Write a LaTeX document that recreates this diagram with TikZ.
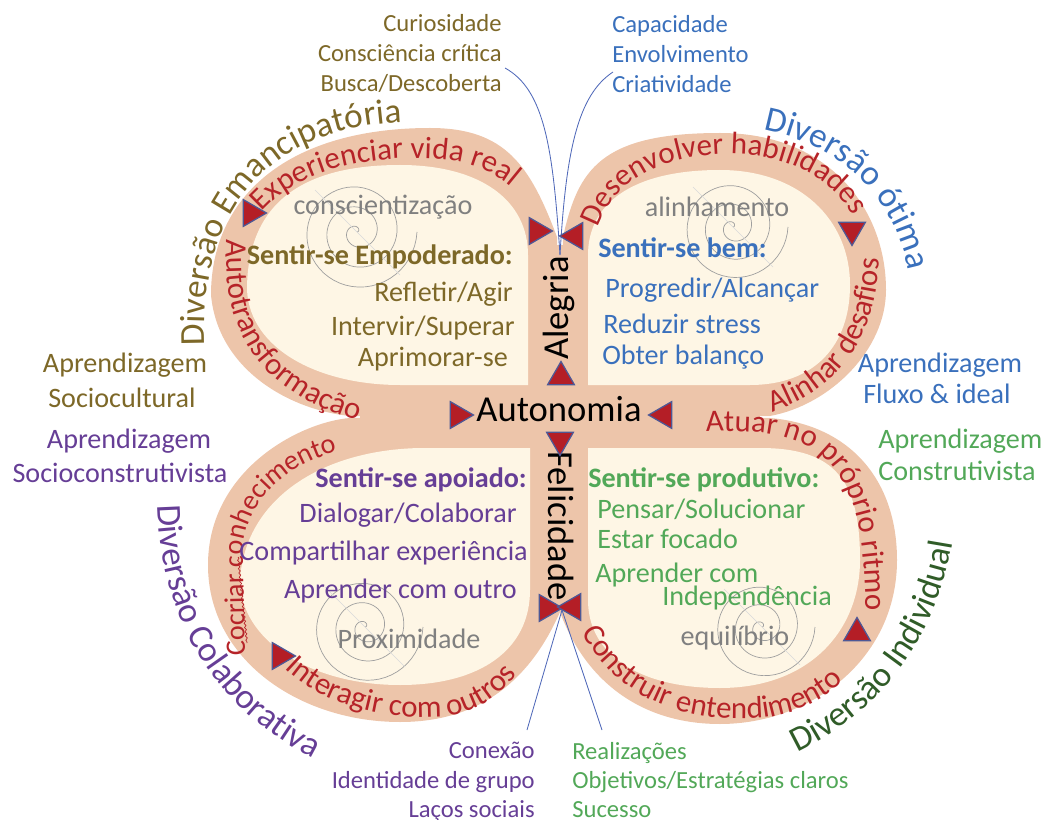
\documentclass[tikz,border=0pt]{standalone}
\usepackage{fontspec}
\setmainfont{Carlito}
\usetikzlibrary{decorations.text,decorations.pathmorphing,shapes.geometric}

\definecolor{band}{RGB}{237,197,170}
\definecolor{cream}{RGB}{254,246,229}
\definecolor{bandred}{RGB}{182,35,40}
\definecolor{emancol}{RGB}{125,104,40}
\definecolor{otimacol}{RGB}{58,112,188}
\definecolor{colabcol}{RGB}{102,62,150}
\definecolor{indivcol}{RGB}{82,168,88}
\definecolor{indivdark}{RGB}{48,92,40}
\definecolor{trifill}{RGB}{180,30,38}
\definecolor{triline}{RGB}{78,88,150}
\definecolor{linkblue}{RGB}{80,105,185}

\newcommand{\bandfont}{\fontsize{22}{26}\selectfont}
\newcommand{\smallbandfont}{\fontsize{20}{24}\selectfont}
\newcommand{\outerfont}{\fontsize{25}{30}\selectfont}
\newcommand{\listfont}{\fontsize{17.5}{21}\selectfont}
\newcommand{\innerfont}{\fontsize{20}{24}\selectfont}
\newcommand{\centerfont}{\fontsize{26}{30}\selectfont}

\begin{document}
\begin{tikzpicture}[x=0.025cm, y=0.025cm,
    bandfill/.style={fill=band},
    creamfill/.style={fill=cream},
    spiral/.style={draw=gray!75, line width=0.5pt},
    spiralx/.style={draw=gray!30, line width=0.4pt},
    tri/.style={isosceles triangle, isosceles triangle apex angle=60, fill=trifill,
        draw=triline, line width=0.9pt, inner sep=0pt, minimum size=0.58cm},
    link/.style={draw=linkblue, line width=0.6pt},
    txt/.style={inner sep=0pt, font=\innerfont},
    head/.style={inner sep=0pt, font=\innerfont\bfseries},
    listtxt/.style={inner sep=0pt, font=\listfont},
    graytxt/.style={inner sep=0pt, font=\innerfont, text=gray},
    mid/.style={inner sep=0pt, font=\centerfont},
    bandtext/.style={decorate, decoration={text along path, text align=left,
        text color=bandred, text={|\bandfont|#1}}},
    outertext/.style 2 args={decorate, decoration={text along path, text align=left,
        text color=#1, text={|\outerfont|#2}}}]

\useasboundingbox (0,0) rectangle (1046,-820);

% band
\path[bandfill] (562,-420) -- (557,-237) .. controls (530,-165) and (505,-128) .. (430,-128)
    .. controls (290,-128) and (211,-195) .. (211,-295) .. controls (218,-370) and (290,-410) .. (350,-416) -- cycle;
\path[bandfill] (558,-420) -- (563,-237) .. controls (578,-170) and (600,-133) .. (720,-133)
    .. controls (830,-133) and (886,-210) .. (886,-290) .. controls (886,-350) and (830,-405) .. (770,-416) -- cycle;
\path[bandfill] (562,-414) -- (350,-418) .. controls (300,-422) and (208,-470) .. (208,-565)
    .. controls (208,-660) and (300,-722) .. (400,-722) .. controls (480,-722) and (530,-680) .. (560,-612) -- cycle;
\path[bandfill] (558,-414) -- (770,-418) .. controls (850,-425) and (897,-480) .. (897,-560)
    .. controls (897,-660) and (810,-724) .. (720,-724) .. controls (640,-724) and (585,-680) .. (560,-612) -- cycle;
\path[bandfill] (545,-245) rectangle (575,-605);
\path[bandfill] (360,-405) rectangle (760,-430);

% cream
\path[creamfill] (528,-385) -- (528,-255) .. controls (528,-200) and (480,-165) .. (400,-165)
    .. controls (300,-165) and (247,-205) .. (247,-290) .. controls (250,-350) and (320,-385) .. (400,-385) -- cycle;
\path[creamfill] (588,-385) -- (588,-255) .. controls (588,-205) and (630,-170) .. (720,-170)
    .. controls (800,-170) and (850,-220) .. (850,-285) .. controls (850,-345) and (815,-385) .. (750,-385) -- cycle;
\path[creamfill] (530,-448) -- (530,-590) .. controls (530,-650) and (480,-685) .. (400,-685)
    .. controls (310,-685) and (240,-640) .. (240,-580) .. controls (245,-500) and (320,-450) .. (420,-448) -- cycle;
\path[creamfill] (588,-448) -- (588,-600) .. controls (588,-655) and (640,-688) .. (720,-688)
    .. controls (810,-688) and (860,-630) .. (860,-560) .. controls (860,-480) and (835,-448) .. (760,-448) -- cycle;

% spirals
\draw[spiral, shift={(357,-232)}] plot[domain=0:1080, samples=160] (\x:{\x/1080*60});
\draw[spiral, shift={(733,-227)}] plot[domain=0:1080, samples=160] (\x:{\x/1080*55});
\draw[spiral, shift={(365,-627)}] plot[domain=0:1080, samples=160] (\x:{\x/1080*58});
\draw[spiral, shift={(762,-627)}] plot[domain=0:1080, samples=160] (\x:{\x/1080*53});
\draw[spiralx] (315,-190) -- (400,-275);
\draw[spiralx] (693,-187) -- (773,-267);
\draw[spiralx] (325,-587) -- (405,-667);
\draw[spiralx] (724,-589) -- (800,-665);

% text in the band
\path[bandtext=Experienciar vida real] (262,-212) .. controls (300,-170) and (360,-158) .. (420,-158)
    .. controls (470,-158) and (510,-175) .. (530,-210);
\path[bandtext=Autotransformação] (227,-240) .. controls (220,-335) and (265,-400) .. (375,-425);
\path[bandtext=Desenvolver habilidades] (598,-228) .. controls (618,-170) and (680,-154) .. (730,-154)
    .. controls (795,-154) and (840,-184) .. (858,-228);
\path[bandtext=Alinhar desafios] (772,-412) .. controls (835,-390) and (880,-345) .. (880,-240);
\path[bandtext=Atuar no próprio ritmo] (706,-432) .. controls (835,-425) and (870,-470) .. (866,-645);
\path[bandtext=Construir entendimento] (582,-632) .. controls (622,-708) and (700,-722) .. (760,-718)
    .. controls (805,-713) and (842,-692) .. (860,-658);
\path[bandtext=Interagir com outros] (285,-668) .. controls (330,-712) and (400,-720) .. (440,-717)
    .. controls (480,-714) and (512,-690) .. (530,-652);
\path[decorate, decoration={text along path, text align=left, text color=bandred,
    text={|\smallbandfont|Cocriar conhecimento}}] (245,-655) -- (243,-560)
    .. controls (241,-500) and (290,-452) .. (385,-442);
\draw[bandred, line width=0.5pt, decorate, decoration={snake, amplitude=0.6pt, segment length=3pt}]
    (238,-557) -- (247,-643);

% outer labels
\path[outertext={emancol}{Diversão Emancipatória}] (205,-345) .. controls (198,-200) and (280,-122) .. (415,-122);
\path[outertext={otimacol}{Diversão ótima}] (763,-130) .. controls (845,-145) and (905,-205) .. (912,-295);
\path[outertext={colabcol}{Diversão Colaborativa}] (158,-505) .. controls (160,-630) and (225,-720) .. (330,-766);
\path[outertext={indivdark}{Diversão Individual}] (797,-752) .. controls (890,-708) and (950,-620) .. (956,-510);

% centre
\node[mid, anchor=base] (auto) at (559,-421) {Autonomia};
\node[mid, rotate=90, anchor=base] (aleg) at (568,-308) {Alegria};
\node[mid, rotate=-90, anchor=base] (feli) at (548,-526) {Felicidade};

% lobes
\node[graytxt, anchor=base] (tlgray) at (383,-215) {conscientização};
\node[head, emancol, anchor=base east] (tlhead) at (513,-265) {Sentir-se Empoderado:};
\node[txt, emancol, anchor=base east] (tl1) at (513,-302) {Refletir/Agir};
\node[txt, emancol, anchor=base east] (tl2) at (515,-336) {Intervir/Superar};
\node[txt, emancol, anchor=base east] (tl3) at (508,-367) {Aprimorar-se};

\node[graytxt, anchor=base] (trgray) at (717,-217) {alinhamento};
\node[head, otimacol, anchor=base west] (trhead) at (598,-258) {Sentir-se bem:};
\node[txt, otimacol, anchor=base west] (tr1) at (605,-298) {Progredir/Alcançar};
\node[txt, otimacol, anchor=base west] (tr2) at (603,-333) {Reduzir stress};
\node[txt, otimacol, anchor=base west] (tr3) at (602,-364) {Obter balanço};

\node[head, colabcol, anchor=base east] (blhead) at (527,-487) {Sentir-se apoiado:};
\node[txt, colabcol, anchor=base east] (bl1) at (517,-522) {Dialogar/Colaborar};
\node[txt, colabcol, anchor=base east] (bl2) at (528,-560) {Compartilhar experiência};
\node[txt, colabcol, anchor=base east] (bl3) at (517,-598) {Aprender com outro};
\node[graytxt, anchor=base] (blgray) at (409,-648) {Proximidade};

\node[head, indivcol, anchor=base west] (brhead) at (588,-487) {Sentir-se produtivo:};
\node[txt, indivcol, anchor=base west] (br1) at (597,-518) {Pensar/Solucionar};
\node[txt, indivcol, anchor=base west] (br2) at (597,-548) {Estar focado};
\node[txt, indivcol, anchor=base west] (br3) at (595,-582) {Aprender com};
\node[txt, indivcol, anchor=base west] (br4) at (662,-605) {Independência};
\node[graytxt, anchor=base] (brgray) at (735,-645) {equilíbrio};

% side texts
\node[txt, emancol, anchor=base] (scul1) at (125,-373) {Aprendizagem};
\node[txt, emancol, anchor=base] (scul2) at (122,-407) {Sociocultural};
\node[txt, colabcol, anchor=base] (scon1) at (129,-448) {Aprendizagem};
\node[txt, colabcol, anchor=base] (scon2) at (120,-482) {Socioconstrutivista};
\node[txt, otimacol, anchor=base] (flux1) at (940,-372) {Aprendizagem};
\node[txt, otimacol, anchor=base] (flux2) at (937,-403) {Fluxo \& ideal};
\node[txt, indivcol, anchor=base west] (cons1) at (878,-448) {Aprendizagem};
\node[txt, indivcol, anchor=base west] (cons2) at (878,-480) {Construtivista};

% top and bottom lists
\node[listtxt, emancol, anchor=base east] (curio) at (502,-32) {Curiosidade};
\node[listtxt, emancol, anchor=base east] (consc) at (502,-62) {Consciência crítica};
\node[listtxt, emancol, anchor=base east] (busca) at (502,-92) {Busca/Descoberta};
\node[listtxt, otimacol, anchor=base west] (capac) at (612,-33) {Capacidade};
\node[listtxt, otimacol, anchor=base west] (envol) at (612,-63) {Envolvimento};
\node[listtxt, otimacol, anchor=base west] (criat) at (612,-93) {Criatividade};
\node[listtxt, colabcol, anchor=base east] (conex) at (535,-758) {Conexão};
\node[listtxt, colabcol, anchor=base east] (ident) at (535,-788) {Identidade de grupo};
\node[listtxt, colabcol, anchor=base east] (lacos) at (535,-817) {Laços sociais};
\node[listtxt, indivcol, anchor=base west] (realz) at (572,-759) {Realizações};
\node[listtxt, indivcol, anchor=base west] (objet) at (572,-788) {Objetivos/Estratégias claros};
\node[listtxt, indivcol, anchor=base west] (suces) at (572,-817) {Sucesso};

% connectors
\coordinate (topjoin) at (560,-255);
\coordinate (lnka) at (505,-68);
\coordinate (lnkb) at (613,-72);
\coordinate (botjoin) at (562,-610);
\coordinate (lnkc) at (527,-730);
\coordinate (lnkd) at (602,-730);
\draw[link] (topjoin) .. controls (553,-150) and (545,-90) .. (lnka);
\draw[link] (topjoin) .. controls (566,-150) and (578,-95) .. (lnkb);
\draw[link] (botjoin) -- (lnkc);
\draw[link] (botjoin) -- (lnkd);

% arrow heads
\node[tri, shape border rotate=0] (t1) at (251,-213) {};
\node[tri, shape border rotate=0] (t2) at (537,-231) {};
\node[tri, shape border rotate=180] (t3) at (575,-236) {};
\node[tri, shape border rotate=270] (t4) at (852,-230) {};
\node[tri, shape border rotate=90] (t5) at (561,-377) {};
\node[tri, shape border rotate=0] (t6) at (458,-415) {};
\node[tri, shape border rotate=180] (t7) at (664,-415) {};
\node[tri, shape border rotate=270] (t8) at (560,-440) {};
\node[tri, shape border rotate=0] (t9) at (547,-608) {};
\node[tri, shape border rotate=180] (t10) at (573,-607) {};
\node[tri, shape border rotate=0] (t11) at (280,-656) {};
\node[tri, shape border rotate=90] (t12) at (857,-633) {};
\end{tikzpicture}
\end{document}
